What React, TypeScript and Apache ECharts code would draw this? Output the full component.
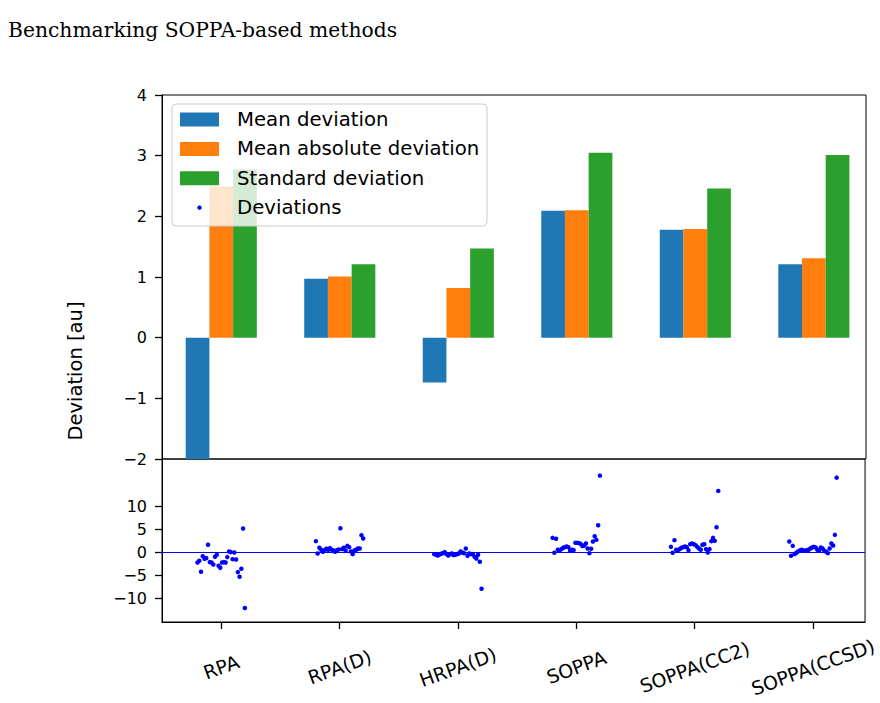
import React, { useEffect, useRef } from 'react';
import * as echarts from 'echarts';

// Methods on the x axis
const categories = ['RPA', 'RPA(D)', 'HRPA(D)', 'SOPPA', 'SOPPA(CC2)', 'SOPPA(CCSD)'];

// Summary statistics per method [au]
const meanDeviation = [-2.02, 0.97, -0.74, 2.09, 1.78, 1.21];
const meanAbsoluteDeviation = [2.49, 1.01, 0.82, 2.1, 1.79, 1.31];
const standardDeviation = [2.77, 1.21, 1.47, 3.05, 2.46, 3.01];

// Individual deviations per method [au], in molecule order
const devRPA = [
  -2.24, -1.88, -4.26, -0.87, -1.44, -1.3, 1.59, -2.16, -2.24, -2.67, -1.01, -0.58, -2.96, -3.39,
  -2.24, -2.16, -2.24, -1.08, 0.14, 0.0, -1.52, -0.07, -1.59, -4.33, -5.34, -3.61, 5.12, -12.12,
];
const devRPAD = [
  2.38, -0.29, 0.94, 0.51, 0.07, 0.43, 0.72, 0.51, 0.87, 0.51, 0.36, 0.07, 0.43, 0.58, 5.19, 0.65,
  0.94, 0.36, 1.37, 1.08, 0.14, -0.43, 0.36, 0.51, 0.79, 0.79, 3.68, 2.96,
];
const devHRPAD = [
  -0.43, -0.58, -0.72, -0.51, -0.36, -0.22, 0.0, -0.43, -0.72, -0.43, -0.29, -0.65, -0.58, -0.43,
  -0.29, 0.14, -0.07, -0.22, 0.79, -0.79, -0.29, -0.43, -0.43, -1.01, -1.37, -0.58, -2.09, -7.94,
];
const devSOPPA = [
  3.1, -0.14, 2.89, 0.51, 0.36, 0.65, 0.94, 1.08, 1.23, 1.08, 0.36, 0.51, 0.43, 2.02, 2.02, 1.95,
  1.8, 1.3, 1.44, 1.88, 0.79, -0.22, 0.72, 2.31, 3.46, 2.67, 5.84, 16.59,
];
const devSOPPACC2 = [
  1.15, -0.14, 2.6, 0.51, 0.43, 0.65, 0.94, 1.08, 1.23, 1.08, 0.43, 1.73, 1.88, 1.73, 1.52, 1.15,
  0.79, 0.51, 1.59, 1.73, 0.65, -0.07, 0.65, 2.38, 3.1, 2.45, 5.41, 13.28,
];
const devSOPPACCSD = [
  2.31, -0.79, 1.37, -0.43, -0.14, 0.14, 0.36, 0.51, 0.36, 0.29, 0.43, 0.51, 0.79, 1.01, 1.15,
  1.01, 0.51, 0.29, 1.01, 0.79, 0.29, 0.07, -0.22, 0.79, 1.88, 1.44, 3.75, 16.16,
];
const deviations = [devRPA, devRPAD, devHRPAD, devSOPPA, devSOPPACC2, devSOPPACCSD];

// Tick positions
const topTicks = [-2, -1, 0, 1, 2, 3, 4];
const bottomTicks = [-10, -5, 0, 5, 10];

// Layout
const PLOT_LEFT = 162;
const PLOT_WIDTH = 704;
const X_MIN = -0.5;
const X_MAX = 5.44;
const GROUP_OFFSET = 0.2;
const BAR_WIDTH_PX = (GROUP_OFFSET * PLOT_WIDTH) / (X_MAX - X_MIN);
const TICK_LEN = 7;

const COLORS = { mean: '#1f77b4', mad: '#ff7f0e', std: '#2ca02c', dots: '#0000ff' };
const FONT = 'DejaVu Sans';
const TICK_FONT = 16;

const minusFmt = (v: number) => (v < 0 ? '\u2212' + Math.abs(v) : String(v));

const spine = { show: true, onZero: false, lineStyle: { color: '#000', width: 1 } };
const tickStyle = { color: '#000', width: 1.3 };

function barSeries(name: string, values: number[], offset: number, color: string) {
  return {
    type: 'bar',
    name,
    xAxisIndex: 0,
    yAxisIndex: 0,
    data: values.map((v, i) => [i + offset, v]),
    barWidth: BAR_WIDTH_PX,
    barGap: '-100%',
    clip: true,
    silent: true,
    itemStyle: { color },
  };
}

// Spread each method's points evenly across its slot
function scatterData() {
  const out: number[][] = [];
  deviations.forEach((vals, g) => {
    const n = vals.length;
    vals.forEach((v, j) => {
      out.push([g - GROUP_OFFSET + (2 * GROUP_OFFSET * j) / (n - 1), v]);
    });
  });
  return out;
}

function buildLegend() {
  const x0 = 172;
  const y0 = 104;
  const rows = [119.5, 148.9, 178.3, 207.7];
  const labels = ['Mean deviation', 'Mean absolute deviation', 'Standard deviation', 'Deviations'];
  const patchColors = [COLORS.mean, COLORS.mad, COLORS.std];
  const els: any[] = [
    {
      type: 'rect',
      shape: { x: x0, y: y0, width: 315, height: 122, r: 4 },
      style: { fill: 'rgba(255,255,255,0.8)', stroke: '#cccccc', lineWidth: 1 },
      z: 100,
    },
  ];
  patchColors.forEach((c, i) => {
    els.push({
      type: 'rect',
      shape: { x: 180, y: rows[i] - 7, width: 39, height: 14 },
      style: { fill: c },
      z: 101,
    });
  });
  els.push({
    type: 'circle',
    shape: { cx: 199.5, cy: rows[3], r: 2.2 },
    style: { fill: COLORS.dots },
    z: 101,
  });
  labels.forEach((t, i) => {
    els.push({
      type: 'text',
      x: 237,
      y: rows[i],
      style: {
        text: t,
        fontFamily: FONT,
        fontSize: 19.7,
        fill: '#000',
        verticalAlign: 'middle',
        align: 'left',
      },
      z: 101,
    });
  });
  return els;
}

export default function App() {
  const ref = useRef<HTMLDivElement>(null);

  useEffect(() => {
    if (!ref.current) return;
    const chart = echarts.init(ref.current, null, { renderer: 'svg' });

    const yLabel = {
      formatter: minusFmt,
      margin: 15,
      fontSize: TICK_FONT,
      fontFamily: FONT,
      color: '#000',
    };

    const option: any = {
      animation: false,
      backgroundColor: '#ffffff',
      textStyle: { fontFamily: FONT },
      grid: [
        {
          left: PLOT_LEFT,
          top: 95,
          width: PLOT_WIDTH,
          height: 364,
          show: true,
          borderColor: '#000',
          borderWidth: 1,
          backgroundColor: 'transparent',
        },
        {
          left: PLOT_LEFT,
          top: 459,
          width: PLOT_WIDTH,
          height: 163,
          show: true,
          borderColor: '#000',
          borderWidth: 1,
          backgroundColor: 'transparent',
        },
      ],
      xAxis: [
        {
          type: 'value',
          gridIndex: 0,
          min: X_MIN,
          max: X_MAX,
          axisLine: { show: false, onZero: false },
          axisTick: { show: false },
          axisLabel: { show: false },
          splitLine: { show: false },
        },
        {
          type: 'value',
          gridIndex: 1,
          position: 'bottom',
          min: X_MIN,
          max: X_MAX,
          axisLine: spine,
          splitLine: { show: false },
          axisTick: {
            show: true,
            length: TICK_LEN,
            customValues: categories.map((_, i) => i),
            lineStyle: tickStyle,
          },
          axisLabel: {
            show: true,
            customValues: categories.map((_, i) => i),
            formatter: (v: number) => categories[Math.round(v)] ?? '',
            rotate: 20,
            align: 'center',
            verticalAlign: 'middle',
            margin: 45,
            fontSize: 19,
            fontFamily: FONT,
            color: '#000',
          },
        },
      ],
      yAxis: [
        {
          type: 'value',
          gridIndex: 0,
          position: 'left',
          min: -2,
          max: 4,
          interval: 1,
          axisLine: spine,
          splitLine: { show: false },
          axisTick: { show: true, length: TICK_LEN, lineStyle: tickStyle },
          axisLabel: { ...yLabel, customValues: topTicks },
        },
        {
          type: 'value',
          gridIndex: 1,
          position: 'left',
          min: -15.15,
          max: 20.2,
          axisLine: spine,
          splitLine: { show: false },
          axisTick: {
            show: true,
            length: TICK_LEN,
            customValues: bottomTicks,
            lineStyle: tickStyle,
          },
          axisLabel: { ...yLabel, customValues: bottomTicks },
        },
      ],
      series: [
        barSeries('Mean deviation', meanDeviation, -GROUP_OFFSET, COLORS.mean),
        barSeries('Mean absolute deviation', meanAbsoluteDeviation, 0, COLORS.mad),
        barSeries('Standard deviation', standardDeviation, GROUP_OFFSET, COLORS.std),
        {
          type: 'scatter',
          name: 'Deviations',
          xAxisIndex: 1,
          yAxisIndex: 1,
          data: scatterData(),
          symbol: 'circle',
          symbolSize: 4.5,
          silent: true,
          itemStyle: { color: COLORS.dots, opacity: 1 },
          markLine: {
            silent: true,
            symbol: 'none',
            label: { show: false },
            lineStyle: { color: COLORS.dots, width: 1, type: 'solid' },
            data: [{ yAxis: 0 }],
          },
        },
      ],
      graphic: [
        {
          type: 'text',
          x: 8,
          y: 19.5,
          style: {
            text: 'Benchmarking SOPPA-based methods',
            fontFamily: 'DejaVu Serif',
            fontSize: 20.3,
            fill: '#000',
            align: 'left',
            verticalAlign: 'alphabetic',
          },
        },
        {
          type: 'text',
          x: 75,
          y: 371,
          rotation: Math.PI / 2,
          style: {
            text: 'Deviation [au]',
            fontFamily: FONT,
            fontSize: 19.5,
            fill: '#000',
            align: 'center',
            verticalAlign: 'middle',
          },
        },
        ...buildLegend(),
      ],
    };

    chart.setOption(option);
    return () => chart.dispose();
  }, []);

  return (
    <div
      ref={ref}
      style={{ position: 'fixed', left: 0, top: 0, width: 880, height: 703 }}
    />
  );
}
